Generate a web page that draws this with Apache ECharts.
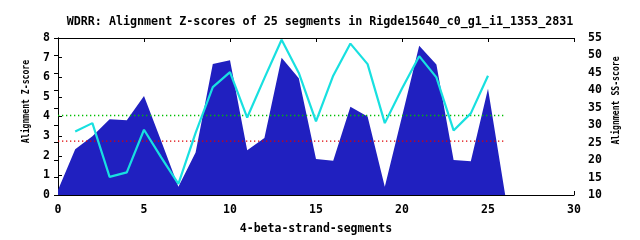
<!DOCTYPE html>
<html>
<head>
<meta charset="utf-8">
<script src="https://cdn.jsdelivr.net/npm/echarts@6/dist/echarts.min.js"></script>
<style>html,body{margin:0;padding:0;background:#fff}#c{width:640px;height:240px}</style>
</head>
<body>
<div id="c"></div>
<script>
const titleText = 'WDRR: Alignment Z-scores of 25 segments in Rigde15640_c0_g1_i1_1353_2831';
const xAxisTitle = '4-beta-strand-segments';
const leftAxisTitle = 'Alignment Z-score';
const rightAxisTitle = 'Alignment SS-score';

const zX = [0,1,2,3,4,5,6,7,8,9,10,11,12,13,14,15,16,17,18,19,20,21,22,23,24,25,26];
const zScores = [0.25,2.33,3.0,3.86,3.81,5.05,2.75,0.42,2.17,6.67,6.87,2.28,2.9,7.0,5.95,1.83,1.75,4.5,4.0,0.42,4.0,7.6,6.65,1.78,1.72,5.42,0];

const ssX = [1,2,3,4,5,6,7,8,9,10,11,12,13,14,15,16,17,18,19,20,21,22,23,24,25];
const ssScores = [28.2,30.6,15.2,16.5,28.7,20.8,13.2,27.8,40.9,45.2,32.2,43.5,54.5,45.0,31.1,44.2,53.4,47.5,30.6,40.5,49.8,43.7,28.5,33.4,44.2];

const thresholdX = [0, 26];
const greenThreshold = 4.05;
const redThreshold = 2.75;

const FONT = 'DejaVu Sans Mono';
const chart = echarts.init(document.getElementById('c'), null, {renderer:'canvas'});

const axisText = {color:'#000', fontFamily:FONT, fontWeight:'bold', fontSize:11.5};
const lineBlack = {show:true, lineStyle:{color:'#000', width:1}};

chart.setOption({
  animation:false,
  backgroundColor:'#fff',
  title:{
    text:titleText, left:315, top:11, textAlign:'center',
    textStyle:{color:'#000', fontFamily:FONT, fontWeight:'bold', fontSize:11.7}
  },
  grid:{left:58, right:66, top:38, height:160, containLabel:false},
  xAxis:[{
    type:'value', min:0, max:30, interval:5, position:'bottom',
    axisLine:lineBlack, axisTick:{show:true, inside:true, length:4, lineStyle:{color:'#000'}},
    axisLabel:Object.assign({margin:9}, axisText), splitLine:{show:false},
    name:xAxisTitle, nameLocation:'middle', nameGap:28, nameTextStyle:axisText
  },{
    type:'value', min:0, max:30, interval:5, position:'top',
    axisLine:lineBlack, axisTick:{show:true, inside:true, length:4, lineStyle:{color:'#000'}},
    axisLabel:{show:false}, splitLine:{show:false}
  }],
  yAxis:[{
    type:'value', min:0, max:8, interval:1, position:'left',
    axisLine:lineBlack, axisTick:{show:true, inside:true, length:4, lineStyle:{color:'#000'}},
    axisLabel:Object.assign({margin:8}, axisText), splitLine:{show:false}
  },{
    type:'value', min:10, max:55, interval:5, position:'right',
    axisLine:lineBlack, axisTick:{show:true, inside:true, length:4, lineStyle:{color:'#000'}},
    axisLabel:Object.assign({margin:14}, axisText), splitLine:{show:false}
  }],
  graphic:[
    {type:'text', x:26.5, y:101.5, rotation:Math.PI/2, scaleX:0.74,
     style:{text:leftAxisTitle, fill:'#000', font:'bold 11px "DejaVu Sans Mono"', align:'center', verticalAlign:'middle'}},
    {type:'text', x:616, y:100.5, rotation:Math.PI/2, scaleX:0.74,
     style:{text:rightAxisTitle, fill:'#000', font:'bold 11px "DejaVu Sans Mono"', align:'center', verticalAlign:'middle'}}
  ],
  series:[{
    type:'line', xAxisIndex:0, yAxisIndex:0, z:2,
    data:zX.map((x,i)=>[x, zScores[i]]),
    symbol:'none', lineStyle:{width:0, color:'#2020c0'},
    areaStyle:{color:'#2020c0', opacity:1}
  },{
    type:'line', xAxisIndex:0, yAxisIndex:0, z:3,
    data:thresholdX.map(x=>[x, greenThreshold]),
    symbol:'none', lineStyle:{color:'#00c000', width:1.3, type:[1.3,2.7], dashOffset:-4}
  },{
    type:'line', xAxisIndex:0, yAxisIndex:0, z:3,
    data:thresholdX.map(x=>[x, redThreshold]),
    symbol:'none', lineStyle:{color:'#e00000', width:1.3, type:[1.3,2.7], dashOffset:-4}
  },{
    type:'line', xAxisIndex:0, yAxisIndex:1, z:4,
    data:ssX.map((x,i)=>[x, ssScores[i]]),
    symbol:'none', lineStyle:{color:'#18e0e0', width:2.2}
  }]
});
</script>
</body>
</html>
